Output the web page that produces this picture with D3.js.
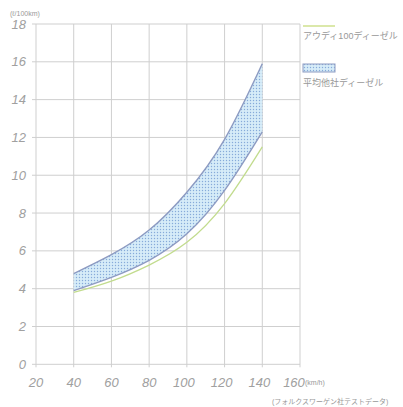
<!DOCTYPE html>
<html>
<head>
<meta charset="utf-8">
<script src="https://cdn.jsdelivr.net/npm/d3@7"></script>
<style>
  body { margin: 0; background: #fff; }
  text { font-family: "Liberation Sans", "Noto Sans CJK JP", sans-serif; }
</style>
</head>
<body>
<div id="chart"></div>
<script>
// speeds (km/h) and fuel use (l/100km)
var speeds = [40, 60, 80, 100, 120, 140];
var audiDiesel = [3.8, 4.4, 5.25, 6.45, 8.5, 11.5];
var othersLow = [3.9, 4.6, 5.5, 6.9, 9.2, 12.3];
var othersHigh = [4.8, 5.8, 7.1, 9.1, 11.9, 15.9];
var xTicks = [20, 40, 60, 80, 100, 120, 140, 160];
var yTicks = [0, 2, 4, 6, 8, 10, 12, 14, 16, 18];
var legendNames = ["アウディ100ディーゼル", "平均他社ディーゼル"];

var W = 403, H = 407;
var margin = {top: 24, right: 103, bottom: 43, left: 36};

var svg = d3.select("#chart")
  .append("svg")
    .attr("width", W)
    .attr("height", H);

var x = d3.scaleLinear().domain([20, 160]).range([margin.left, W - margin.right]);
var y = d3.scaleLinear().domain([0, 18]).range([H - margin.bottom + 0.3, margin.top]);

// dotted fill for the band
var defs = svg.append("defs");
var pat = defs.append("pattern")
    .attr("id", "dots")
    .attr("patternUnits", "userSpaceOnUse")
    .attr("width", 3).attr("height", 3);
pat.append("rect").attr("width", 3).attr("height", 3).attr("fill", "#d6ecf8");
pat.append("circle").attr("cx", 1.5).attr("cy", 1.5).attr("r", 0.7).attr("fill", "#86abd9");

var grid = "#cfcfcf";

// horizontal grid lines
svg.append("g").selectAll("line")
  .data(yTicks)
  .enter().append("line")
    .attr("x1", x(20) - 4).attr("x2", x(160))
    .attr("y1", function(d) { return y(d); })
    .attr("y2", function(d) { return y(d); })
    .attr("stroke", grid).attr("stroke-width", 1);

// vertical grid lines
svg.append("g").selectAll("line")
  .data(xTicks)
  .enter().append("line")
    .attr("x1", function(d) { return x(d); })
    .attr("x2", function(d) { return x(d); })
    .attr("y1", y(18)).attr("y2", y(0) + 3)
    .attr("stroke", grid).attr("stroke-width", 1);

// tick labels
svg.append("g").selectAll("text")
  .data(yTicks)
  .enter().append("text")
    .attr("x", x(20) - 10)
    .attr("y", function(d) { return y(d); })
    .attr("dy", "0.35em")
    .attr("text-anchor", "end")
    .attr("font-size", 13)
    .attr("font-style", "italic")
    .attr("fill", "#a0a0a0")
    .text(function(d) { return d; });

svg.append("g").selectAll("text")
  .data(xTicks)
  .enter().append("text")
    .attr("x", function(d) { return x(d) - (d == 160 ? 6 : d >= 100 ? 3 : 0); })
    .attr("y", y(0) + 23)
    .attr("text-anchor", "middle")
    .attr("font-size", 13)
    .attr("font-style", "italic")
    .attr("fill", "#a0a0a0")
    .text(function(d) { return d; });

svg.append("text")
  .attr("x", 10).attr("y", 16)
  .attr("font-size", 7)
  .attr("fill", "#999")
  .text("(ℓ/100km)");

svg.append("text")
  .attr("x", x(160) + 5).attr("y", y(0) + 21)
  .attr("font-size", 7)
  .attr("fill", "#999")
  .text("(km/h)");

svg.append("text")
  .attr("x", 272).attr("y", 404)
  .attr("font-size", 7)
  .attr("fill", "#999")
  .text("(フォルクスワーゲン社テストデータ)");

// band of the other makers
var bandData = speeds.map(function(s, i) { return {s: s, lo: othersLow[i], hi: othersHigh[i]}; });

var area = d3.area()
    .curve(d3.curveNatural)
    .x(function(d) { return x(d.s); })
    .y0(function(d) { return y(d.lo); })
    .y1(function(d) { return y(d.hi); });

svg.append("path")
    .datum(bandData)
    .attr("d", area)
    .attr("fill", "url(#dots)");

var edge = d3.line().curve(d3.curveNatural);

svg.append("path")
    .attr("d", edge(speeds.map(function(s, i) { return [x(s), y(othersHigh[i])]; })))
    .attr("fill", "none").attr("stroke", "#8d9bc2").attr("stroke-width", 1.4);
svg.append("path")
    .attr("d", edge(speeds.map(function(s, i) { return [x(s), y(othersLow[i])]; })))
    .attr("fill", "none").attr("stroke", "#8d9bc2").attr("stroke-width", 1.4);

// audi line
svg.append("path")
    .attr("d", edge(speeds.map(function(s, i) { return [x(s), y(audiDiesel[i])]; })))
    .attr("fill", "none").attr("stroke", "#c2dc8e").attr("stroke-width", 1.3);

// legend
var lx = 303;
svg.append("line")
    .attr("x1", lx).attr("x2", lx + 32)
    .attr("y1", 26).attr("y2", 26)
    .attr("stroke", "#cfe08e").attr("stroke-width", 1.5);
svg.append("text")
    .attr("x", lx).attr("y", 39)
    .attr("font-size", 9).attr("fill", "#999")
    .text(legendNames[0]);

svg.append("rect")
    .attr("x", lx).attr("y", 64)
    .attr("width", 32).attr("height", 8)
    .attr("fill", "url(#dots)")
    .attr("stroke", "#8d9bc2").attr("stroke-width", 1);
svg.append("text")
    .attr("x", lx).attr("y", 86)
    .attr("font-size", 9).attr("fill", "#999")
    .text(legendNames[1]);
</script>
</body>
</html>
